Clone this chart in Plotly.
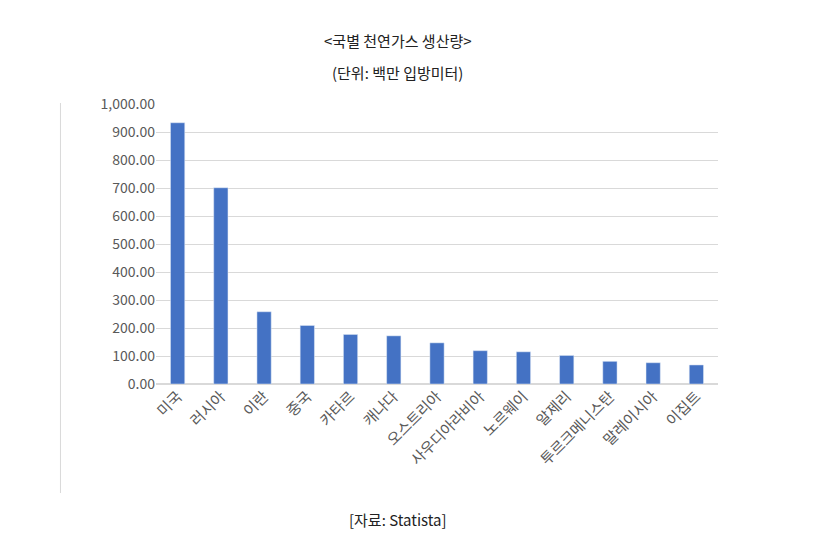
import plotly.graph_objects as go

countries = ['미국', '러시아', '이란', '중국', '카타르', '캐나다', '오스트리아', '사우디아라비아',
             '노르웨이', '알제리', '투르크메니스탄', '말레이시아', '이집트']
production = [933, 701, 258, 209, 177, 172, 147, 119, 115, 102, 81, 76, 68]
y_ticks = [0, 100, 200, 300, 400, 500, 600, 700, 800, 900, 1000]

FONT = 'Noto Sans CJK KR'

fig = go.Figure(go.Bar(
    x=countries, y=production,
    marker_color='#4472C4', width=0.33,
))

fig.update_layout(
    width=823, height=548,
    paper_bgcolor='white', plot_bgcolor='white',
    margin=dict(l=148, r=113, t=96, b=172),
    font=dict(family=FONT, color='#595959', size=13),
    showlegend=False,
)

plot_h = 548 - 96 - 172
def py(px):
    return (548 - 172 - px) / plot_h

fig.layout.annotations = [
    dict(text='<국별 천연가스 생산량>', x=0.43, y=py(20), xref='paper', yref='paper',
         showarrow=False, font=dict(size=15, color='#222222')),
    dict(text='(단위: 백만 입방미터)', x=0.43, y=py(52), xref='paper', yref='paper',
         showarrow=False, font=dict(size=15, color='#222222')),
    dict(text='[자료: Statista]', x=0.43, y=py(524), xref='paper', yref='paper',
         showarrow=False, font=dict(size=15, color='#222222')),
]
fig.add_shape(type='line', xref='paper', yref='paper',
              x0=-0.17, x1=-0.17, y0=py(95), y1=py(485),
              line=dict(color='#D9D9D9', width=1))

fig.update_yaxes(range=[0, 1000], tickvals=y_ticks,
                 ticktext=[f'{v:,.2f}' for v in y_ticks],
                 gridcolor='#D9D9D9', zeroline=True, zerolinecolor='#D9D9D9',
                 ticks='', tickfont=dict(size=14))
fig.update_xaxes(tickangle=-45, tickfont=dict(size=15), showline=False)

fig.write_html('out.html')
